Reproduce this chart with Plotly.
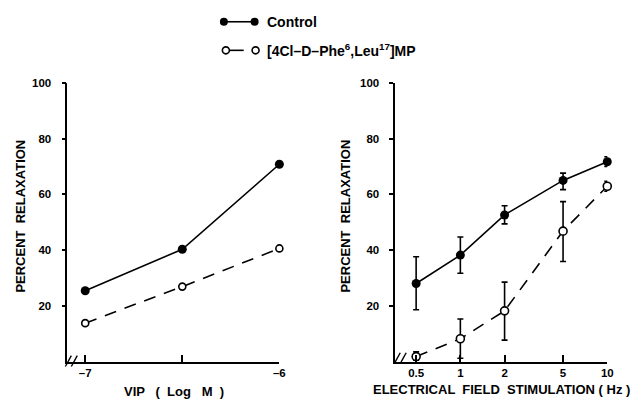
import plotly.graph_objects as go

W, H = 643, 401

# ---- data ----
vip_x = [-7.0, -6.5, -6.0]
vip_ticks = [-7.0, -6.0]
vip_ticktext = ["–7", "–6"]
vip_control = [25.4, 40.3, 70.8]
vip_antag = [13.8, 26.9, 40.6]

efs_x = [0.5, 1, 2, 5, 10]
efs_ticktext = ["0.5", "1", "2", "5", "10"]
efs_control = [28.0, 38.2, 52.6, 65.0, 71.7]
efs_control_hi = [37.6, 44.7, 55.9, 67.6, 73.5]
efs_control_lo = [18.6, 31.7, 49.4, 61.7, 70.0]
efs_antag = [1.8, 8.2, 18.2, 46.8, 62.9]
efs_antag_hi = [3.5, 15.3, 28.5, 57.4, 64.7]
efs_antag_lo = [0.5, 1.2, 7.7, 35.9, 61.1]

y_ticks = [20, 40, 60, 80, 100]

legend_names = ["Control", "[4Cl–D–Phe<sup>6</sup>,Leu<sup>17</sup>]MP"]

FONT = "Liberation Sans"
BLK = "black"

def px2x(p):
    return p / W

def px2y(p):
    return 1 - p / H

fig = go.Figure()

# left panel
fig.add_trace(go.Scatter(x=vip_x, y=vip_control, mode="lines+markers",
                         line=dict(color=BLK, width=1.6),
                         marker=dict(symbol="circle", size=9, color=BLK),
                         xaxis="x", yaxis="y", cliponaxis=False, showlegend=False))
fig.add_trace(go.Scatter(x=vip_x, y=vip_antag, mode="lines+markers",
                         line=dict(color=BLK, width=1.6, dash="12px,9px"),
                         marker=dict(symbol="circle", size=7, color="white",
                                     line=dict(color=BLK, width=1.6)),
                         xaxis="x", yaxis="y", cliponaxis=False, showlegend=False))

# right panel
def err(v, hi, lo):
    return [h - m for h, m in zip(hi, v)], [m - l for m, l in zip(v, lo)]

cp, cm = err(efs_control, efs_control_hi, efs_control_lo)
ap, am = err(efs_antag, efs_antag_hi, efs_antag_lo)

fig.add_trace(go.Scatter(x=efs_x, y=efs_antag, mode="lines+markers",
                         line=dict(color=BLK, width=1.6, dash="12px,9px"),
                         marker=dict(symbol="circle", size=8, color="white",
                                     line=dict(color=BLK, width=1.6)),
                         error_y=dict(type="data", symmetric=False, array=ap, arrayminus=am,
                                      color=BLK, thickness=1.6, width=3),
                         xaxis="x2", yaxis="y2", cliponaxis=False, showlegend=False))
fig.add_trace(go.Scatter(x=efs_x, y=efs_control, mode="lines+markers",
                         line=dict(color=BLK, width=1.6),
                         marker=dict(symbol="circle", size=9, color=BLK),
                         error_y=dict(type="data", symmetric=False, array=cp, arrayminus=cm,
                                      color=BLK, thickness=1.6, width=3),
                         xaxis="x2", yaxis="y2", cliponaxis=False, showlegend=False))

# legend glyphs in a pixel-mapped overlay axis
fig.add_trace(go.Scatter(x=[226, 257], y=[16, 16], mode="lines+markers",
                         line=dict(color=BLK, width=1.6),
                         marker=dict(size=8, color=BLK),
                         xaxis="x3", yaxis="y3", showlegend=False, hoverinfo="skip"))
fig.add_trace(go.Scatter(x=[232, 246], y=[45, 45], mode="lines",
                         line=dict(color=BLK, width=1.6),
                         xaxis="x3", yaxis="y3", showlegend=False, hoverinfo="skip"))
fig.add_trace(go.Scatter(x=[228, 258], y=[45, 45], mode="markers",
                         marker=dict(size=7, color="white", line=dict(color=BLK, width=1.6)),
                         xaxis="x3", yaxis="y3", showlegend=False, hoverinfo="skip"))

tfont = dict(size=13, family=FONT, weight="bold", color=BLK)
lfont = dict(size=14, family=FONT, weight="bold", color=BLK)
annotations = [
    dict(x=267, y=16, xref="x3", yref="y3", text=legend_names[0], showarrow=False,
         xanchor="left", yanchor="middle", font=lfont),
    dict(x=267, y=45, xref="x3", yref="y3", text=legend_names[1], showarrow=False,
         xanchor="left", yanchor="middle", font=lfont),
    dict(x=px2x(21), y=px2y(213), xref="paper", yref="paper", text="PERCENT  RELAXATION",
         showarrow=False, textangle=-90, xanchor="center", yanchor="middle", font=tfont),
    dict(x=px2x(349), y=px2y(213), xref="paper", yref="paper", text="PERCENT  RELAXATION",
         showarrow=False, textangle=-90, xanchor="center", yanchor="middle", font=tfont),
    dict(x=px2x(176), y=px2y(391), xref="paper", yref="paper", text="VIP   (  Log   M  )",
         showarrow=False, xanchor="center", yanchor="middle", font=tfont),
    dict(x=px2x(506), y=px2y(389), xref="paper", yref="paper",
         text="ELECTRICAL  FIELD  STIMULATION ( Hz )",
         showarrow=False, xanchor="center", yanchor="middle", font=tfont),
]

shapes = []
for bx, by in [(66, 360), (398, 357)]:
    for dx in (0, 6):
        shapes.append(dict(type="line", xref="paper", yref="paper",
                           x0=px2x(bx + dx), y0=px2y(by + 6), x1=px2x(bx + dx + 6), y1=px2y(by - 5),
                           line=dict(color=BLK, width=1.4)))

ydom = [px2y(361), px2y(78)]
tickfont = dict(size=11.5, family=FONT, weight="bold", color=BLK)
axis_common = dict(showline=True, linecolor=BLK, linewidth=1.6, showgrid=False,
                   zeroline=False, tickcolor=BLK, tickwidth=1.6, tickfont=tickfont)

fig.update_layout(
    width=W, height=H, margin=dict(l=0, r=0, t=0, b=0),
    paper_bgcolor="white", plot_bgcolor="rgba(0,0,0,0)",
    font=dict(family=FONT, color=BLK),
    xaxis=dict(**axis_common, ticks="inside", domain=[px2x(68), px2x(282)],
               range=[-7.092, -6.0], tickvals=vip_ticks, ticktext=vip_ticktext,
               ticklen=7, anchor="y", ticklabelstandoff=0,
               minor=dict(ticks="inside", tick0=-7, dtick=0.5, ticklen=7,
                          tickcolor=BLK, tickwidth=1.6, showgrid=False)),
    yaxis=dict(**axis_common, ticks="outside", domain=ydom, range=[0, 100], tickvals=y_ticks,
               ticklen=4, ticklabelstandoff=8, anchor="x"),
    xaxis2=dict(**axis_common, ticks="inside", domain=[px2x(399), px2x(613)],
                type="log", range=[-0.443, 1.0], tickvals=efs_x, ticktext=efs_ticktext,
                ticklen=7, anchor="y2", ticklabelstandoff=0),
    yaxis2=dict(**axis_common, ticks="outside", domain=ydom, range=[0, 100], tickvals=y_ticks,
                ticklen=4, ticklabelstandoff=8, anchor="x2"),
    xaxis3=dict(domain=[0, 1], range=[0, W], visible=False, anchor="y3", fixedrange=True),
    yaxis3=dict(domain=[0, 1], range=[H, 0], visible=False, anchor="x3", fixedrange=True),
    annotations=annotations, shapes=shapes,
)

fig.write_html("out.html", config={"displayModeBar": False},
               post_script="document.body.style.margin='0';document.body.style.overflow='hidden';")
